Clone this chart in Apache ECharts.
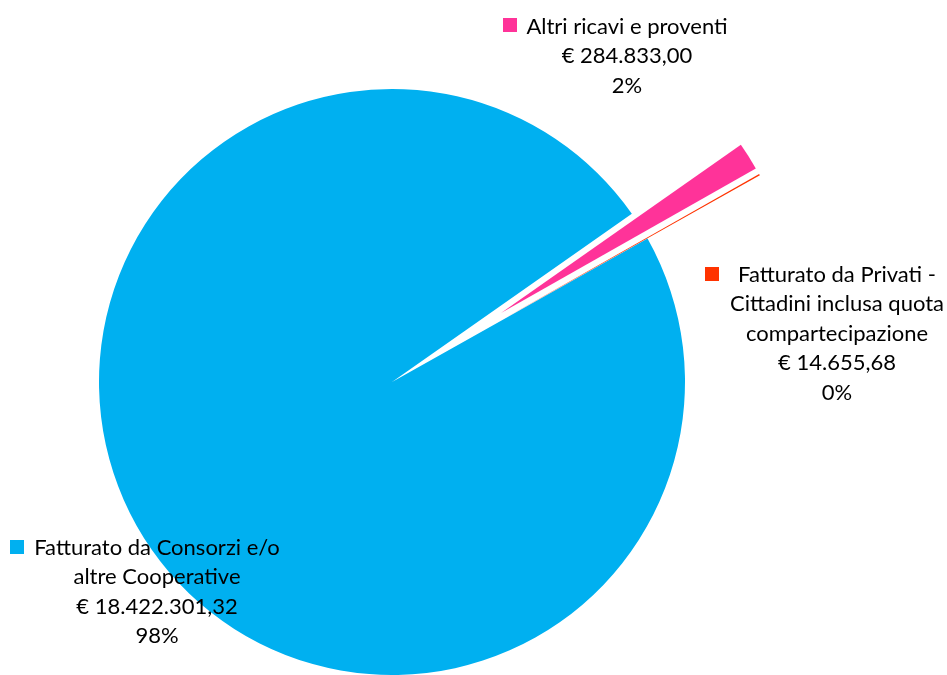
<!DOCTYPE html>
<html>
<head>
<meta charset="utf-8">
<script src="https://cdn.jsdelivr.net/npm/echarts@6/dist/echarts.min.js"></script>
<style>
  html, body { margin: 0; padding: 0; background: #ffffff; }
  #chart { width: 947px; height: 675px; }
</style>
</head>
<body>
<div id="chart"></div>
<script>
// Revenue sources (euro)
const categories = [
  'Fatturato da Consorzi e/o\naltre Cooperative',
  'Altri ricavi e proventi',
  'Fatturato da Privati -\nCittadini inclusa quota\ncompartecipazione'
];
const values = [18422301.32, 284833.00, 14655.68];
const colors = ['#00B0F0', '#FF3399', '#FF3300'];
const exploded = [false, true, true];

// Label block anchors (top-centre of each text block) and key squares
const labelAnchors = [[157, 533], [627, 12], [837, 260]];
const keyPositions = [[10, 540], [503, 18], [705, 267]];

const FONT = 'Lato, "Noto Sans", sans-serif';
const CENTER = [392, 382];
const RADIUS = 293;
const START = 29.3;

function euro(v) {
  const parts = v.toFixed(2).split('.');
  const intPart = parts[0].replace(/\B(?=(\d{3})+(?!\d))/g, '.');
  return '€ ' + intPart + ',' + parts[1];
}

const chart = echarts.init(document.getElementById('chart'), null, { renderer: 'canvas' });

// one legend per category so each key square sits beside its label
const legends = categories.map((name, i) => ({
  data: [name],
  left: keyPositions[i][0],
  top: keyPositions[i][1],
  padding: 0,
  icon: 'rect',
  itemWidth: 14,
  itemHeight: 14,
  selectedMode: false,
  formatter: () => '',
  textStyle: { fontSize: 1 }
}));

chart.setOption({
  animation: false,
  color: colors,
  legend: legends,
  series: [
    {
      // the slices, with the two small ones pulled out
      type: 'pie',
      center: CENTER,
      radius: RADIUS,
      startAngle: START,
      clockwise: true,
      selectedMode: 'multiple',
      selectedOffset: 129,
      emphasis: { disabled: true },
      itemStyle: { borderWidth: 0 },
      label: { show: false },
      labelLine: { show: false },
      data: categories.map((name, i) => ({
        name: name,
        value: values[i],
        selected: exploded[i],
        itemStyle: { color: colors[i] }
      }))
    },
    {
      // data labels carried by an invisible copy of the same pie
      type: 'pie',
      silent: true,
      center: CENTER,
      radius: RADIUS,
      startAngle: START,
      clockwise: true,
      selectedMode: false,
      avoidLabelOverlap: false,
      emphasis: { disabled: true },
      itemStyle: { color: 'rgba(0,0,0,0)', borderWidth: 0 },
      label: {
        show: true,
        position: 'outside',
        formatter: p => p.name + '\n' + euro(p.value) + '\n' + Math.round(p.percent) + '%',
        fontFamily: FONT,
        fontSize: 22,
        lineHeight: 29.5,
        color: '#000000',
        align: 'center'
      },
      labelLine: { show: false },
      labelLayout: params => ({
        x: labelAnchors[params.dataIndex][0],
        y: labelAnchors[params.dataIndex][1],
        align: 'center',
        verticalAlign: 'top'
      }),
      data: categories.map((name, i) => ({ name: name, value: values[i] }))
    }
  ]
});
</script>
</body>
</html>
